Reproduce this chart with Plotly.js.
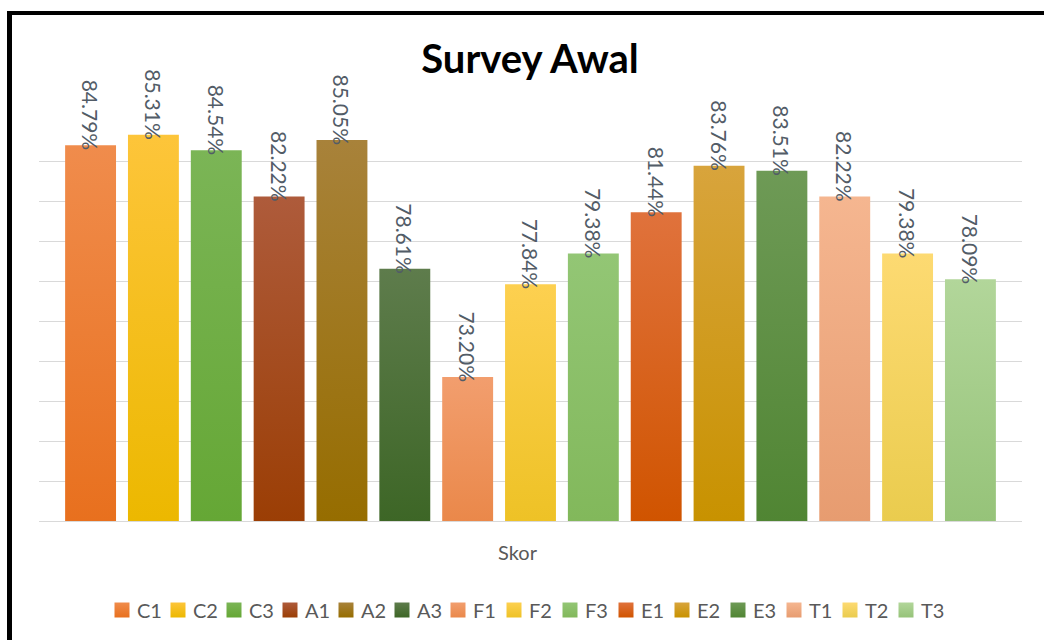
<!DOCTYPE html>
<html>
<head>
<meta charset="utf-8">
<script src="https://cdn.plot.ly/plotly-3.0.1.min.js"></script>
<style>
  html, body { margin: 0; padding: 0; background: #fff; }
  #wrap { position: relative; width: 1044px; height: 640px; overflow: hidden; }
  #chart { position: absolute; left: 0; top: 0; width: 1044px; height: 640px; }
  #frame { position: absolute; left: 7px; top: 11px; width: 1100px; height: 700px;
           border-top: 4px solid #000; border-left: 5px solid #000; pointer-events: none; }
</style>
</head>
<body>
<div id="wrap">
  <div id="chart"></div>
  <div id="frame"></div>
</div>
<script>
// Survey scores per indicator
const categories = ['Skor'];
const series = ['C1', 'C2', 'C3', 'A1', 'A2', 'A3', 'F1', 'F2', 'F3', 'E1', 'E2', 'E3', 'T1', 'T2', 'T3'];
const scores = [84.79, 85.31, 84.54, 82.22, 85.05, 78.61, 73.20, 77.84, 79.38, 81.44, 83.76, 83.51, 82.22, 79.38, 78.09];

// value axis: bars rise from the bottom of the visible range
const AXIS_MIN = 66;
const AXIS_MAX = 86;

// Bar shading: lighter at the top, deeper at the base
const topColors = ['#F08C4C', '#FDC53A', '#7BB556', '#AE5B3B', '#A8823A', '#5E7C4C',
                   '#F29E6E', '#FDD050', '#93C675', '#E0723C', '#D8A43C', '#6E9A56',
                   '#F5B690', '#FDDA72', '#B2D69A'];
const bottomColors = ['#E8701E', '#ECB800', '#65A735', '#9B3E05', '#966D00', '#3D6626',
                      '#EA884A', '#EEC226', '#82B85B', '#D05400', '#C89200', '#508533',
                      '#E79C70', '#EACC4E', '#96C379'];
const midColors = ['#EC7E35', '#F5BF1C', '#70AE45', '#A54C20', '#9F781D', '#4D7139',
                   '#EE935D', '#F6C93B', '#8ABF68', '#D8631E', '#D09B1E', '#5F9045',
                   '#EEA980', '#F4D360', '#A4CD8A'];

const FONT = 'Lato, "Open Sans", sans-serif';
const labelFont = { family: FONT, size: 21, color: '#525c67' };

const traces = series.map((name, i) => ({
  type: 'bar',
  name: name,
  x: categories,
  y: [scores[i] - AXIS_MIN],
  base: AXIS_MIN,
  text: [scores[i].toFixed(2) + '%'],
  textposition: 'outside',
  textangle: 90,
  constraintext: 'none',
  cliponaxis: false,
  outsidetextfont: labelFont,
  marker: { color: midColors[i], line: { width: 0 } },
  hoverinfo: 'none'
}));

const layout = {
  width: 1044,
  height: 640,
  margin: { l: 39, r: 22, t: 121, b: 119 },
  paper_bgcolor: '#ffffff',
  plot_bgcolor: '#ffffff',
  title: {
    text: '<b>Survey Awal</b>',
    font: { family: FONT, size: 40, color: '#000000' },
    x: 530 / 1044, xanchor: 'center',
    y: 1 - 59 / 640, yanchor: 'middle'
  },
  barmode: 'group',
  bargap: 0.041,
  bargroupgap: 0.19,
  showlegend: true,
  xaxis: {
    type: 'category',
    showline: true,
    linecolor: '#d9d9d9',
    linewidth: 1,
    ticks: '',
    showgrid: false,
    zeroline: false,
    tickfont: { family: FONT, size: 20, color: '#595959' },
    ticklabelstandoff: 14,
    ticklabelshift: -13
  },
  yaxis: {
    range: [AXIS_MIN, AXIS_MAX],
    tick0: AXIS_MIN,
    dtick: 2,
    showticklabels: false,
    ticks: '',
    gridcolor: '#d9d9d9',
    gridwidth: 1,
    zeroline: false,
    showline: false
  },
  legend: {
    orientation: 'h',
    xref: 'container', yref: 'container',
    x: 522 / 1044, xanchor: 'center',
    y: 1 - 610 / 640, yanchor: 'middle',
    font: { family: FONT, size: 20, color: '#595959' },
    traceorder: 'normal',
    itemwidth: 30,
    entrywidth: 11,
    bgcolor: 'rgba(0,0,0,0)'
  }
};

const gd = document.getElementById('chart');
const svgNS = 'http://www.w3.org/2000/svg';

// vertical shading gradients, kept inside the chart's own <defs>
function ensureShades() {
  const defs = gd.querySelector('svg.main-svg defs');
  if (!defs || defs.querySelector('#barShade0')) return;
  series.forEach((s, i) => {
    const grad = document.createElementNS(svgNS, 'linearGradient');
    grad.setAttribute('id', 'barShade' + i);
    grad.setAttribute('x1', '0'); grad.setAttribute('y1', '0');
    grad.setAttribute('x2', '0'); grad.setAttribute('y2', '1');
    [['0%', topColors[i]], ['100%', bottomColors[i]]].forEach(([off, col]) => {
      const st = document.createElementNS(svgNS, 'stop');
      st.setAttribute('offset', off);
      st.setAttribute('stop-color', col);
      grad.appendChild(st);
    });
    defs.appendChild(grad);
  });
}

// apply the shading, nudge value labels onto the bar tops, tighten legend entries
function finishStyling() {
  try {
    ensureShades();
    gd.querySelectorAll('.barlayer .trace').forEach((t, i) => {
      t.querySelectorAll('path').forEach(p => {
        p.style.fill = 'url(#barShade' + i + ')';
      });
      t.querySelectorAll('text').forEach(tx => {
        if (!tx.dataset.nudged) {
          const tr = tx.getAttribute('transform') || '';
          tx.setAttribute('transform', 'translate(0,8) ' + tr);
          tx.dataset.nudged = '1';
        }
      });
    });
    gd.querySelectorAll('.legend .traces').forEach((t, i) => {
      t.querySelectorAll('.legendpoints path').forEach(p => {
        p.style.fill = 'url(#barShade' + i + ')';
        p.setAttribute('d', 'M7.5,7.5H-7.5V-7.5H7.5Z');
      });
      t.querySelectorAll('text.legendtext').forEach(tx => tx.setAttribute('x', '35'));
    });
    gd.querySelectorAll('.legend .scrollbox').forEach(s => s.removeAttribute('clip-path'));
  } catch (e) { /* keep the library's default styling */ }
}

gd.on && gd.on('plotly_afterplot', finishStyling);
const done = Plotly.newPlot(gd, traces, layout, { staticPlot: true, displayModeBar: false });
finishStyling();
if (done && done.then) done.then(finishStyling);
setTimeout(finishStyling, 50);
setTimeout(finishStyling, 300);
</script>
</body>
</html>
